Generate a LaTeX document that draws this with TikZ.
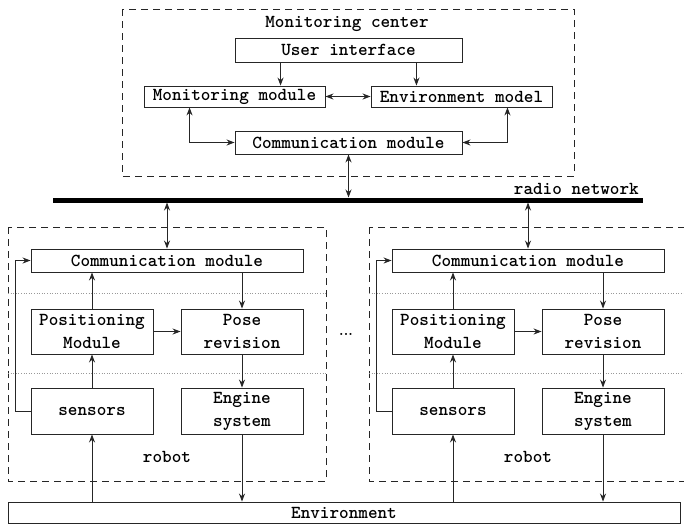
\documentclass[tikz,border=0pt]{standalone}
\usetikzlibrary{arrows.meta}
\newcommand{\mono}{\ttfamily\bfseries\fontsize{18.3}{23}\selectfont}
\tikzset{
  blk/.style={draw=black!85, line width=0.9pt, inner sep=0pt, font=\mono, align=center},
  conn/.style={draw=black!85, line width=0.9pt, -{Stealth[length=8pt,width=6pt]}},
  twoway/.style={draw=black!85, line width=0.9pt, {Stealth[length=8pt,width=6pt]}-{Stealth[length=8pt,width=6pt]}},
  unitbox/.style={draw=black!85, line width=0.9pt, dash pattern=on 7pt off 5pt},
  sepline/.style={draw=black!40, line width=0.6pt, dotted},
  lbl/.style={font=\mono, inner sep=0pt},
}
\begin{document}
\begin{tikzpicture}[x=1pt, y=-1pt]
  \fill[white] (0,0) rectangle (684,525);
  \useasboundingbox (0,0) rectangle (684,525);
  % monitoring center
  \draw[unitbox] (122,9) rectangle (574,176);
  \node[lbl] (title) at (347,24) {Monitoring center};
  \node[blk, minimum width=227, minimum height=24] (ui) at (348.5,50) {User interface};
  \node[blk, minimum width=181, minimum height=21] (mm) at (234.5,96.5) {Monitoring module};
  \node[blk, minimum width=181, minimum height=21] (em) at (461.5,96.5) {Environment model};
  \node[blk, minimum width=227, minimum height=23] (tcm) at (348.5,142.5) {Communication module};
  \coordinate (u1) at ([xshift=46pt]ui.south west);
  \coordinate (u2) at ([xshift=-46pt]ui.south east);
  \draw[conn] (u1) -- (u1 |- mm.north);
  \draw[conn] (u2) -- (u2 |- em.north);
  \draw[twoway] (mm.east) -- (em.west);
  \draw[twoway] ([xshift=46pt]mm.south west) |- (tcm.west);
  \draw[twoway] ([xshift=-45pt]em.south east) |- (tcm.east);
  % radio network
  \coordinate (netA) at (53,200);
  \coordinate (netB) at (643,200);
  \draw[line width=5pt] (netA) -- (netB);
  \node[lbl, anchor=base east] (radio) at (639,194) {radio network};
  \coordinate (net0) at (348.5,197.5);
  \draw[twoway] (tcm.south) -- (net0);
  % environment
  \node[blk, minimum width=672, minimum height=21] (env) at (344,512.5) {Environment};
  \node[font=\Large\bfseries] (dots) at (346,334) {...};
  % robots
  \foreach \ox/\nm in {0/L,361/R}{
    \draw[unitbox] (\ox+8,227) rectangle (\ox+326,481);
    \draw[sepline] (\ox+8,293) -- (\ox+326,293);
    \draw[sepline] (\ox+8,373) -- (\ox+326,373);
    \node[blk, minimum width=272, minimum height=23] (cm\nm) at (\ox+167,260.5) {Communication module};
    \node[blk, minimum width=122, minimum height=45] (pm\nm) at (\ox+92,331.5) {Positioning\\Module};
    \node[blk, minimum width=122, minimum height=45] (pr\nm) at (\ox+242,331.5) {Pose\\revision};
    \node[blk, minimum width=122, minimum height=46] (se\nm) at (\ox+92,411) {sensors};
    \node[blk, minimum width=122, minimum height=46] (es\nm) at (\ox+242,411) {Engine\\system};
    \node[lbl] (rb\nm) at (\ox+167,457) {robot};
    \coordinate (net\nm) at (\ox+167,202.5);
    \draw[twoway] (net\nm) -- (cm\nm.north);
    \draw[conn] (pm\nm.north) -- (pm\nm.north |- cm\nm.south);
    \draw[conn] (se\nm.north) -- (pm\nm.south);
    \draw[conn] (pr\nm.north |- cm\nm.south) -- (pr\nm.north);
    \draw[conn] (pm\nm.east) -- (pr\nm.west);
    \draw[conn] (pr\nm.south) -- (es\nm.north);
    \draw[conn] (es\nm.south) -- (es\nm.south |- env.north);
    \draw[conn] (se\nm.south |- env.north) -- (se\nm.south);
    \draw[conn] (se\nm.west) -- ++(-15,0) |- (cm\nm.west);
  }
\end{tikzpicture}
\end{document}
